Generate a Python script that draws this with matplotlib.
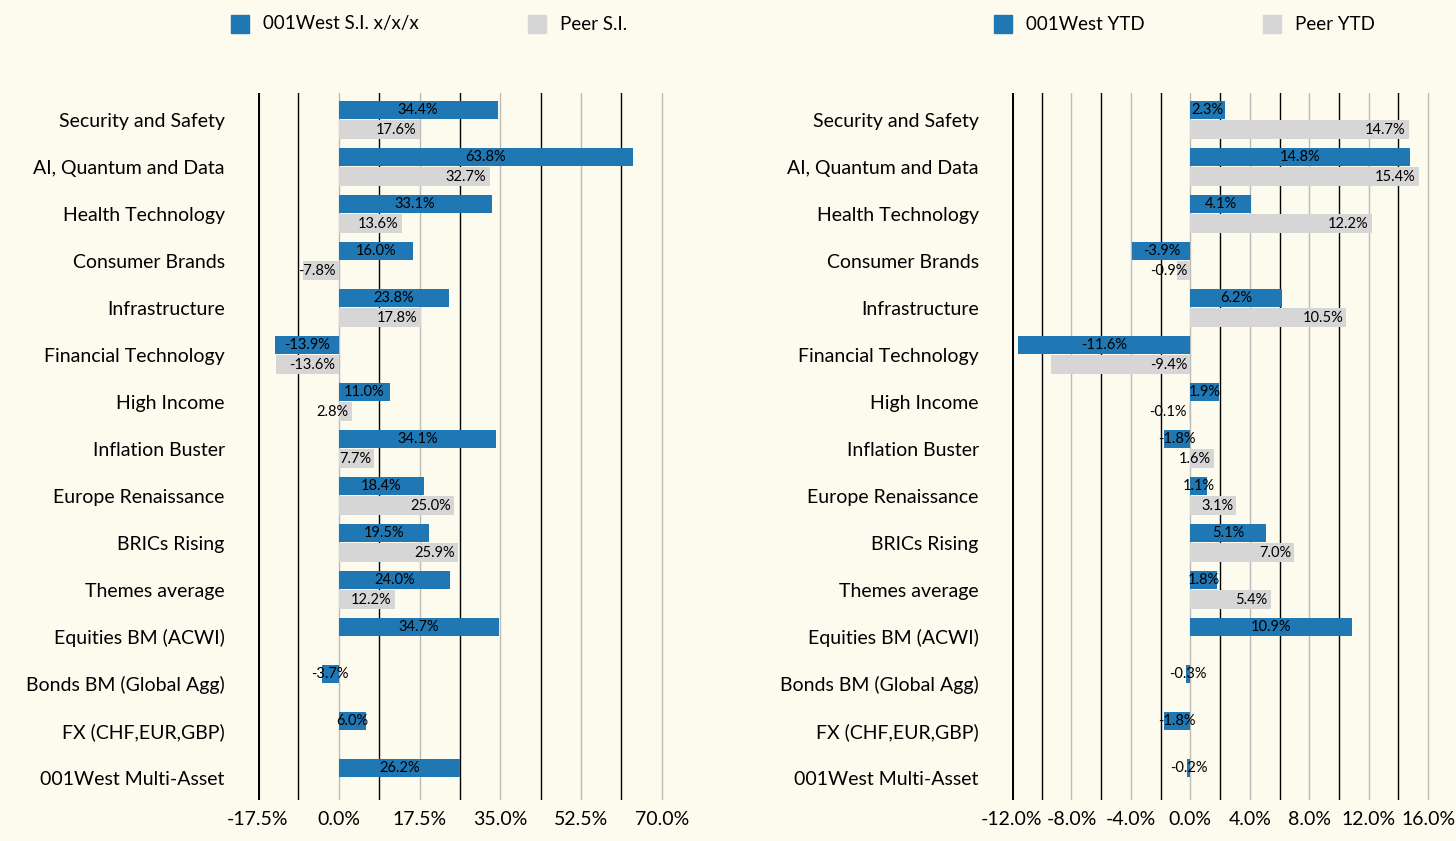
import matplotlib
matplotlib.use("Agg")
import matplotlib.pyplot as plt
from matplotlib.patches import Rectangle
import numpy as np

categories = ["Security and Safety", "AI, Quantum and Data", "Health Technology", "Consumer Brands",
              "Infrastructure", "Financial Technology", "High Income", "Inflation Buster",
              "Europe Renaissance", "BRICs Rising", "Themes average", "Equities BM (ACWI)",
              "Bonds BM (Global Agg)", "FX (CHF,EUR,GBP)", "001West Multi-Asset"]
si_001 = [34.4, 63.8, 33.1, 16.0, 23.8, -13.9, 11.0, 34.1, 18.4, 19.5, 24.0, 34.7, -3.7, 6.0, 26.2]
si_peer = [17.6, 32.7, 13.6, -7.8, 17.8, -13.6, 2.8, 7.7, 25.0, 25.9, 12.2]
ytd_001 = [2.3, 14.8, 4.1, -3.9, 6.2, -11.6, 1.9, -1.8, 1.1, 5.1, 1.8, 10.9, -0.3, -1.8, -0.2]
ytd_peer = [14.7, 15.4, 12.2, -0.9, 10.5, -9.4, -0.1, 1.6, 3.1, 7.0, 5.4]

BG = "#fdfaee"
BLUE = "#1f77b4"
GREY = "#d6d6d6"
plt.rcParams["font.family"] = ["Lato", "DejaVu Sans"]

fig = plt.figure(figsize=(14.56, 8.41), dpi=100, facecolor=BG)


def panel(rect, main, peer, xmin, xmax, step, tick_step, labels):
    ax = fig.add_axes(rect, facecolor=BG)
    y = np.arange(len(categories))
    span = xmax - xmin
    # gridlines alternating black / grey
    k = 1
    g = xmin + step
    while g <= xmax + 1e-9:
        ax.axvline(g, color="black" if k % 2 == 1 else "#bbbbbb", lw=1.0, zorder=0)
        g += step
        k += 1
    ax.axvline(xmin, color="black", lw=2.2, zorder=0)
    ax.barh(y - 0.21, main, height=0.4, color=BLUE, zorder=2)
    ax.barh(y[:len(peer)] + 0.21, peer, height=0.4, color=GREY, zorder=2)
    for i, v in enumerate(main):
        ax.text(v / 2, i - 0.21, f"{v:.1f}%", ha="center", va="center", fontsize=10.5, zorder=3)
    for i, v in enumerate(peer):
        ax.text(max(v, 0) - span * 0.008, i + 0.21, f"{v:.1f}%", ha="right", va="center",
                fontsize=10.5, zorder=3)
    ax.set_xlim(xmin, xmax + step * 0.4)
    ax.set_ylim(len(categories) - 0.53, -0.57)
    ax.set_yticks(y)
    ax.set_yticklabels(categories, fontsize=14)
    ticks = np.arange(xmin, xmax + 1e-9, tick_step)
    ax.set_xticks(ticks)
    ax.set_xticklabels([f"{t:.1f}%" for t in ticks], fontsize=14)
    ax.tick_params(length=0, pad=8)
    ax.tick_params(axis="y", pad=24)
    for s in ax.spines.values():
        s.set_visible(False)
    return ax


panel([258 / 1456, 41 / 841, 420 / 1456, 707 / 841], si_001, si_peer, -17.5, 70, 8.75, 17.5, None)
panel([1012 / 1456, 41 / 841, 428 / 1456, 707 / 841], ytd_001, ytd_peer, -12, 16, 2, 4, None)


def legend_item(x, label, color):
    fig.patches.append(Rectangle((x / 1456, 1 - 33 / 841), 18 / 1456, 18 / 841,
                                 transform=fig.transFigure, color=color))
    fig.text((x + 32) / 1456, 1 - 24 / 841, label, fontsize=13.5, va="center")


legend_item(231, "001West S.I. x/x/x", BLUE)
legend_item(528, "Peer S.I.", GREY)
legend_item(994, "001West YTD", BLUE)
legend_item(1263, "Peer YTD", GREY)

fig.savefig("out.png", dpi=100, facecolor=BG)
